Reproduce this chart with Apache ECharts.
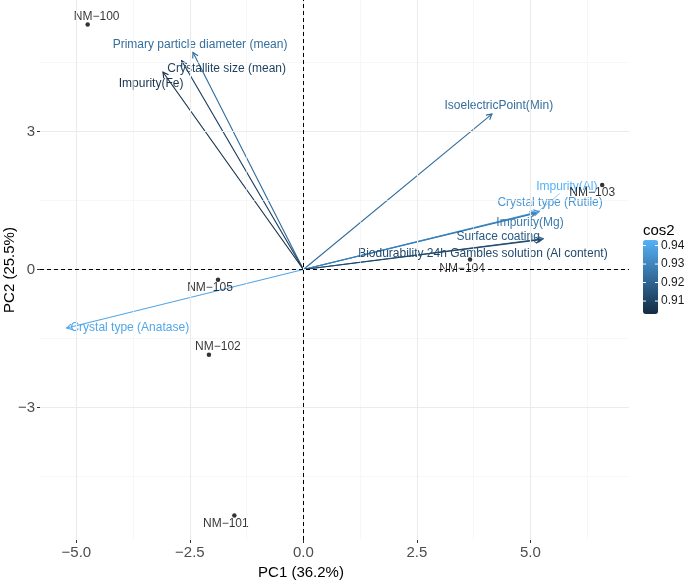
<!DOCTYPE html>
<html>
<head>
<meta charset="utf-8">
<script src="https://cdn.jsdelivr.net/npm/echarts@6/dist/echarts.min.js"></script>
<style>html,body{margin:0;padding:0;background:#fff}#chart{width:685px;height:582px}</style>
</head>
<body>
<div id="chart"></div>
<script>
// ---- data ----
const pointNames = ['NM−100', 'NM−101', 'NM−102', 'NM−103', 'NM−104', 'NM−105'];
const pointPC1 = [-4.75, -1.52, -2.08, 6.58, 3.67, -1.88];
const pointPC2 = [5.33, -5.35, -1.85, 1.84, 0.22, -0.22];

const varNames = [
  'Crystal type (Anatase)', 'Impurity(Al)', 'Crystal type (Rutile)', 'Impurity(Mg)',
  'IsoelectricPoint(Min)', 'Primary particle diameter (mean)', 'Surface coating',
  'Biodurability 24h Gambles solution (Al content)', 'Crystallite size (mean)', 'Impurity(Fe)'
];
const varPC1 = [-5.21, 5.14, 5.19, 5.10, 4.15, -2.43, 5.28, 5.23, -2.68, -3.09];
const varPC2 = [-1.27, 1.24, 1.26, 1.22, 3.38, 4.72, 0.67, 0.65, 4.54, 4.29];
const varCos2 = [0.940, 0.943, 0.935, 0.927, 0.923, 0.923, 0.917, 0.912, 0.909, 0.905];

const xTicks = [-5, -2.5, 0, 2.5, 5];
const xMinorTicks = [-3.75, -1.25, 1.25, 3.75, 6.25];
const yTicks = [-3, 0, 3];
const yMinorTicks = [-4.5, -1.5, 1.5, 4.5];
const cos2Ticks = [0.91, 0.92, 0.93, 0.94];
const cos2Range = [0.903, 0.943];
const xTitle = 'PC1 (36.2%)';
const yTitle = 'PC2 (25.5%)';
const legendTitle = 'cos2';

// ---- styles (label offsets in px) ----
const varLabelOffset = {
  'Crystal type (Anatase)': [63, 0],
  'Impurity(Al)': [30, -26],
  'Crystal type (Rutile)': [11, -9],
  'Impurity(Mg)': [-5, 9],
  'IsoelectricPoint(Min)': [7, -8],
  'Primary particle diameter (mean)': [7, -8],
  'Surface coating': [-45, -2],
  'Biodurability 24h Gambles solution (Al content)': [-58, 14],
  'Crystallite size (mean)': [45, 8],
  'Impurity(Fe)': [-12, 11]
};
const varSegment = { 'Impurity(Al)': [23, -19] };
const pointLabelOffset = {
  'NM−100': [9, -8], 'NM−101': [-8.5, 8], 'NM−102': [9, -8],
  'NM−103': [-10, 8], 'NM−104': [-8, 9], 'NM−105': [-8, 8]
};
const FONT = 'Liberation Sans, Arial, Helvetica, sans-serif';
const GRID = { left: 40, right: 56, top: 0, bottom: 42 };
const minus = s => String(s).replace('-', '\u2212');

const chart = echarts.init(document.getElementById('chart'), null, { renderer: 'canvas' });

const gridLine = (vals, key, color, width) => ({
  type: 'scatter', data: [], z: 1, silent: true,
  markLine: {
    silent: true, symbol: 'none', animation: false,
    label: { show: false }, emphasis: { disabled: true },
    lineStyle: { color: color, width: width, type: 'solid' },
    data: vals.map(v => ({ [key]: v }))
  }
});

const arrowData = varNames.map((n, i) => ({ name: n, value: [varPC1[i], varPC2[i], varCos2[i]] }));
const pointData = pointNames.map((n, i) => ({
  name: n, value: [pointPC1[i], pointPC2[i]],
  label: { offset: pointLabelOffset[n] }
}));

// legend geometry
const LG = { x: 643, y: 240, w: 15, h: 74 };
const legendY = v => LG.y + (cos2Range[1] - v) / (cos2Range[1] - cos2Range[0]) * LG.h;
const legendGraphics = [
  { type: 'text', left: 643, top: 223, style: { text: legendTitle, font: '15px ' + FONT, fill: '#000' } }
];
cos2Ticks.forEach(v => {
  const y = legendY(v);
  legendGraphics.push({ type: 'text', x: LG.x + LG.w + 3, y: y, style: { text: v.toFixed(2), font: '12px ' + FONT, fill: '#1a1a1a', verticalAlign: 'middle' }, z: 10 });
  legendGraphics.push({ type: 'line', shape: { x1: LG.x, y1: y, x2: LG.x + 3, y2: y }, style: { stroke: '#fff', lineWidth: 1 }, z: 10 });
  legendGraphics.push({ type: 'line', shape: { x1: LG.x + LG.w - 3, y1: y, x2: LG.x + LG.w, y2: y }, style: { stroke: '#fff', lineWidth: 1 }, z: 10 });
});

const option = {
  animation: false,
  backgroundColor: '#fff',
  grid: GRID,
  xAxis: {
    type: 'value', min: -5.80, max: 7.17,
    axisLine: { show: false, onZero: false },
    axisTick: { show: true, length: 3, lineStyle: { color: '#333' }, customValues: xTicks },
    axisLabel: { customValues: xTicks, color: '#4d4d4d', fontSize: 15, fontFamily: FONT, margin: 5,
      formatter: v => minus(Number(v).toFixed(1)) },
    splitLine: { show: false }
  },
  yAxis: {
    type: 'value', min: -5.88, max: 5.86,
    axisLine: { show: false, onZero: false },
    axisTick: { show: true, length: 3, lineStyle: { color: '#333' }, customValues: yTicks },
    axisLabel: { customValues: yTicks, color: '#4d4d4d', fontSize: 15, fontFamily: FONT, margin: 5,
      formatter: v => minus(Number(v).toFixed(0)) },
    splitLine: { show: false }
  },
  visualMap: {
    type: 'continuous', seriesIndex: 5, dimension: 2,
    min: cos2Range[0], max: cos2Range[1],
    left: LG.x, top: LG.y, itemWidth: LG.w, itemHeight: LG.h,
    padding: 0, calculable: false, text: null, show: true,
    inRange: { color: ['#132B43', '#56B1F7'] },
    textStyle: { color: 'transparent' }
  },
  graphic: [
    { type: 'text', x: 301, y: 573, style: { text: xTitle, font: '15px ' + FONT, fill: '#000', align: 'center', verticalAlign: 'middle' } },
    { type: 'text', x: 10, y: 270, rotation: Math.PI / 2, style: { text: yTitle, font: '15px ' + FONT, fill: '#000', align: 'center', verticalAlign: 'middle' } }
  ].concat(legendGraphics),
  series: [
    gridLine(xMinorTicks, 'xAxis', '#f2f2f2', 0.6),
    gridLine(yMinorTicks, 'yAxis', '#f2f2f2', 0.6),
    gridLine(xTicks, 'xAxis', '#ebebeb', 1.1),
    gridLine(yTicks, 'yAxis', '#ebebeb', 1.1),
    {
      type: 'scatter', data: [], z: 2, silent: true,
      markLine: {
        silent: true, symbol: 'none', animation: false, label: { show: false }, emphasis: { disabled: true },
        lineStyle: { color: '#000', width: 1, type: [4, 3] },
        data: [{ xAxis: 0 }, { yAxis: 0 }]
      }
    },
    {
      type: 'custom', z: 3, silent: true,
      data: arrowData,
      renderItem: (params, api) => {
        const p0 = api.coord([0, 0]);
        const p1 = api.coord([api.value(0), api.value(1)]);
        const color = api.visual('color');
        const name = varNames[params.dataIndex];
        const ang = Math.atan2(p1[1] - p0[1], p1[0] - p0[0]);
        const L = 6, A = Math.PI / 6;
        const h1 = [p1[0] - L * Math.cos(ang - A), p1[1] - L * Math.sin(ang - A)];
        const h2 = [p1[0] - L * Math.cos(ang + A), p1[1] - L * Math.sin(ang + A)];
        const off = varLabelOffset[name];
        const children = [
          { type: 'polyline', shape: { points: [p0, p1] }, style: { stroke: color, fill: null, lineWidth: 1.15, lineCap: 'round', lineDash: null } },
          { type: 'polyline', shape: { points: [h1, p1, h2] }, style: { stroke: color, fill: null, lineWidth: 1.15 } },
          { type: 'text', x: p1[0] + off[0], y: p1[1] + off[1], style: { text: name, fill: color, font: '12px ' + FONT, align: 'center', verticalAlign: 'middle' } }
        ];
        const seg = varSegment[name];
        if (seg) children.push({ type: 'line', shape: { x1: p1[0], y1: p1[1], x2: p1[0] + seg[0], y2: p1[1] + seg[1] }, style: { stroke: color, lineWidth: 0.6 } });
        return { type: 'group', children: children };
      }
    },
    {
      type: 'scatter', z: 4, silent: true,
      symbol: 'circle', symbolSize: 4.5,
      itemStyle: { color: '#000' },
      label: { show: true, position: 'inside', formatter: p => p.name, color: '#000', fontSize: 12, fontFamily: FONT },
      data: pointData
    }
  ]
};
chart.setOption(option);
</script>
</body>
</html>
